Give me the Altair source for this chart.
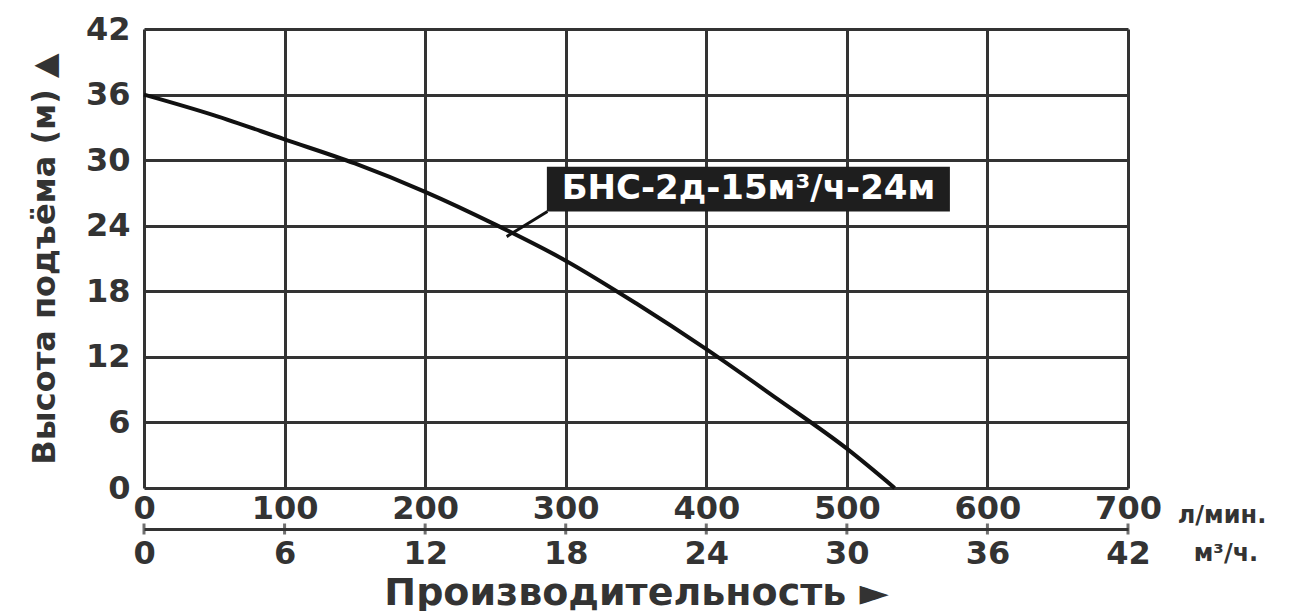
import altair as alt
import pandas as pd

# ---- data ----
flow_lpm = [0, 50, 100, 150, 200, 250, 300, 350, 400, 450, 500, 534]
head_m = [36.0, 34.1, 31.9, 29.7, 27.1, 24.1, 20.8, 16.9, 12.7, 8.2, 3.6, 0.0]

x_ticks_lpm = [0, 100, 200, 300, 400, 500, 600, 700]
x_ticks_m3h = [0, 6, 12, 18, 24, 30, 36, 42]
y_ticks = [0, 6, 12, 18, 24, 30, 36, 42]

series_label = "БНС-2д-15м³/ч-24м"
y_title = "Высота подъёма (м) ▲"
x_title = "Производительность ►"
unit_lpm = "л/мин."
unit_m3h = "м³/ч."

curve = pd.DataFrame({"flow": flow_lpm, "head": head_m})
ticks2 = pd.DataFrame({"m3h": x_ticks_m3h})

FONT = "DejaVu Sans"
DARK = "#333333"
PLOT_W, PLOT_H = 984, 459
AXIS2_OFFSET = 41

xscale = alt.Scale(domain=[0, 700], nice=False)
yscale = alt.Scale(domain=[0, 42], nice=False)

xaxis = alt.Axis(values=x_ticks_lpm, grid=True, gridColor=DARK, gridWidth=3, gridOpacity=1,
                 domain=False, ticks=False, labelFont=FONT, labelFontSize=32,
                 labelFontWeight="bold", labelColor=DARK, labelPadding=5,
                 labelFlush=False, title=None)
yaxis = alt.Axis(values=y_ticks, grid=True, gridColor=DARK, gridWidth=3, gridOpacity=1,
                 domain=False, ticks=False, labelFont=FONT, labelFontSize=32,
                 labelFontWeight="bold", labelColor=DARK, labelPadding=14,
                 labelFlush=False, title=y_title, titleFont=FONT, titleFontSize=32,
                 titleFontWeight="bold", titleColor=DARK, titlePadding=24)

line = alt.Chart(curve).mark_line(color="#111111", strokeWidth=4, interpolate="monotone").encode(
    x=alt.X("flow:Q", scale=xscale, axis=xaxis),
    y=alt.Y("head:Q", scale=yscale, axis=yaxis),
)

# annotation: label box, text, leader line
box_df = pd.DataFrame({"flow": [286.6], "x2": [573.3], "head": [25.3], "y2": [29.4]})
box = alt.Chart(box_df).mark_rect(color="#1e1e1e").encode(
    x=alt.X("flow:Q", scale=xscale, axis=xaxis), x2="x2:Q",
    y=alt.Y("head:Q", scale=yscale, axis=yaxis), y2="y2:Q",
)
txt_df = pd.DataFrame({"flow": [430.0], "head": [27.35], "t": [series_label]})
txt = alt.Chart(txt_df).mark_text(font=FONT, fontSize=34, fontWeight="bold", color="white",
                                  align="center", baseline="middle").encode(
    x=alt.X("flow:Q", scale=xscale, axis=xaxis),
    y=alt.Y("head:Q", scale=yscale, axis=yaxis),
    text="t:N",
)
lead_df = pd.DataFrame({"flow": [258.0], "x2": [287.0], "head": [23.0], "y2": [25.3]})
lead = alt.Chart(lead_df).mark_rule(color="#111111", strokeWidth=3).encode(
    x=alt.X("flow:Q", scale=xscale, axis=xaxis), x2="x2:Q",
    y=alt.Y("head:Q", scale=yscale, axis=yaxis), y2="y2:Q",
)

main = alt.layer(line, box, lead, txt)

units_df = pd.DataFrame({"t": [unit_lpm, unit_m3h], "px": [1078, 1082], "py": [487, 525]})
units = alt.Chart(units_df).mark_text(font=FONT, fontSize=24, fontWeight="bold", color=DARK,
                                      align="center", baseline="middle").encode(
    x=alt.X("px:Q", scale=None), y=alt.Y("py:Q", scale=None), text="t:N")

# second (m³/h) axis below the first one; ticks cross the axis line
axis2 = alt.Chart(ticks2).mark_tick(color=DARK, thickness=3, size=11, orient="vertical").encode(
    x=alt.X("m3h:Q", scale=alt.Scale(domain=[0, 42], nice=False),
            axis=alt.Axis(orient="bottom", values=x_ticks_m3h, offset=AXIS2_OFFSET, grid=False,
                          domain=True, domainColor=DARK, domainWidth=3, ticks=False,
                          labelFont=FONT, labelFontSize=32, labelFontWeight="bold",
                          labelColor=DARK, labelPadding=9, labelFlush=False, title=x_title,
                          titleFont=FONT, titleFontSize=38, titleFontWeight="bold",
                          titleColor=DARK, titlePadding=5)),
    y=alt.value(PLOT_H + AXIS2_OFFSET),
)

chart = alt.layer(main, axis2, units).resolve_scale(x="independent").properties(
    width=PLOT_W, height=PLOT_H,
    padding={"left": 20, "top": 5, "right": 5, "bottom": 5},
).configure_view(stroke=DARK, strokeWidth=3).configure(background="white")

chart.save("out.html", embed_options={"renderer": "svg", "actions": False})
